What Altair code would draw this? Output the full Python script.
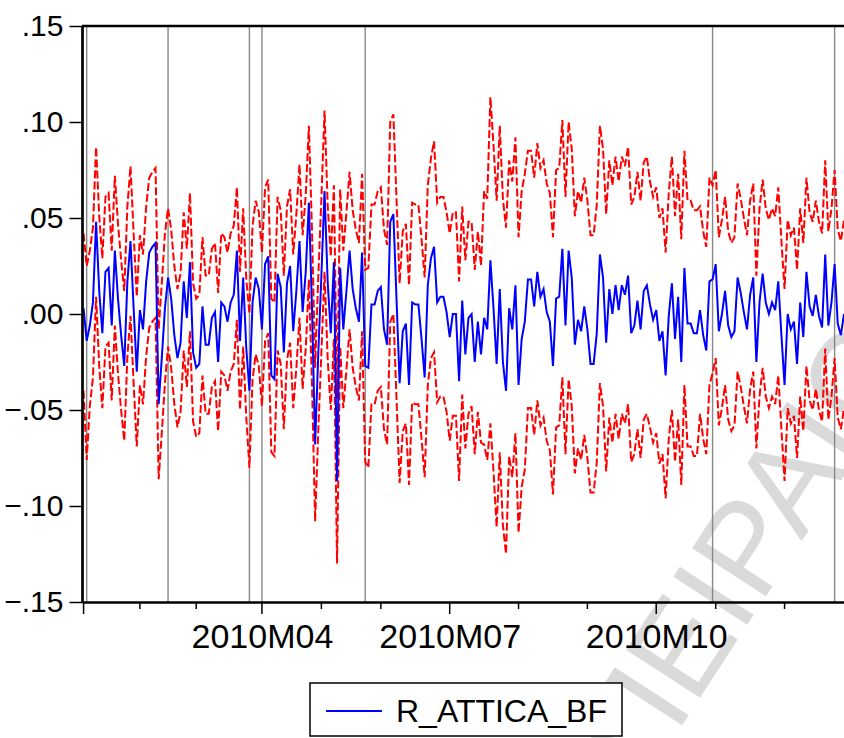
import altair as alt
import pandas as pd

FONT = "Liberation Sans"

# Daily returns of R_ATTICA_BF over 2010 (one value per trading day)
ret = [
    0.003, -0.014, -0.006, 0.006, 0.048, 0.012, -0.010, 0.022, 0.024, -0.006,
    0.033, 0.008, -0.011, -0.027, 0.017, 0.038, 0.003, -0.030, 0.002, -0.008,
    0.017, 0.032, 0.035, 0.037, -0.047, -0.023, 0.003, 0.019, 0.008, -0.011,
    -0.023, -0.015, 0.017, -0.002, 0.027, -0.020, -0.028, -0.026, 0.004, -0.016,
    -0.016, -0.002, 0.001, -0.025, 0.006, 0.004, -0.004, 0.006, 0.010, 0.033,
    -0.014, 0.019, -0.018, -0.040, 0.006, 0.019, 0.013, -0.008, 0.026, 0.030,
    -0.032, -0.034, 0.021, 0.014, -0.020, 0.016, 0.025, -0.009, 0.012, 0.038,
    0.001, 0.022, 0.058, 0.003, -0.068, -0.021, 0.020, 0.064, 0.017, -0.010,
    0.027, -0.087, 0.024, -0.008, 0.012, 0.033, 0.013, 0.003, -0.004, 0.032,
    -0.027, -0.028, 0.005, 0.005, 0.012, 0.014, -0.008, -0.016, 0.048, 0.052,
    0.008, -0.036, -0.009, -0.005, -0.037, 0.006, 0.005, 0.005, -0.013, -0.033,
    0.015, 0.029, 0.035, 0.006, 0.009, 0.009, 0.001, -0.012, 0.000, 0.000,
    -0.035, 0.007, -0.021, -0.002, 0.000, -0.025, -0.004, -0.021, -0.002, -0.008,
    0.028, 0.003, -0.026, 0.013, -0.025, -0.040, 0.003, -0.008, 0.015, -0.037,
    -0.013, -0.004, 0.018, 0.018, 0.004, 0.022, 0.009, 0.013, 0.001, -0.004,
    -0.027, 0.008, 0.009, 0.034, -0.006, 0.033, 0.019, -0.016, -0.003, -0.009,
    0.004, -0.008, -0.026, -0.026, -0.010, 0.031, 0.019, -0.015, 0.013, 0.000,
    0.015, 0.002, 0.015, 0.010, 0.020, -0.010, -0.006, 0.007, -0.008, 0.012,
    0.015, 0.005, -0.003, 0.002, -0.014, -0.009, -0.032, -0.001, 0.016, -0.013,
    0.009, -0.025, 0.024, -0.005, -0.005, -0.010, -0.010, 0.002, -0.011, -0.019,
    0.017, 0.018, 0.026, -0.009, 0.000, 0.012, -0.006, -0.012, -0.009, 0.019,
    0.011, 0.001, -0.008, 0.010, 0.019, -0.025, 0.006, 0.021, 0.006, 0.000,
    0.006, 0.002, 0.017, -0.011, -0.037, 0.000, -0.008, -0.004, -0.026, 0.006,
    -0.012, 0.022, 0.004, -0.001, 0.010, -0.001, -0.007, 0.031, -0.006, 0.006,
    0.026, -0.005, -0.011, 0.000,
]

# Upper band (+2 S.E.)
upper = [
    0.042, 0.025, 0.033, 0.045, 0.087, 0.051, 0.029, 0.061, 0.063, 0.033,
    0.072, 0.047, 0.028, 0.012, 0.056, 0.077, 0.042, 0.009, 0.041, 0.031,
    0.056, 0.071, 0.074, 0.076, -0.008, 0.016, 0.042, 0.055, 0.044, 0.025,
    0.013, 0.021, 0.053, 0.034, 0.063, 0.016, 0.008, 0.010, 0.040, 0.020,
    0.020, 0.034, 0.037, 0.011, 0.042, 0.040, 0.032, 0.042, 0.046, 0.066,
    0.022, 0.055, 0.018, 0.000, 0.046, 0.059, 0.053, 0.032, 0.066, 0.070,
    0.008, 0.006, 0.061, 0.054, 0.020, 0.056, 0.065, 0.031, 0.052, 0.078,
    0.041, 0.062, 0.098, 0.043, -0.028, 0.019, 0.060, 0.106, 0.057, 0.030,
    0.067, -0.044, 0.065, 0.033, 0.053, 0.074, 0.054, 0.044, 0.037, 0.073,
    0.023, 0.024, 0.057, 0.057, 0.064, 0.066, 0.044, 0.036, 0.100, 0.104,
    0.060, 0.016, 0.043, 0.047, 0.015, 0.058, 0.057, 0.057, 0.039, 0.019,
    0.067, 0.081, 0.090, 0.058, 0.061, 0.061, 0.053, 0.042, 0.053, 0.053,
    0.017, 0.056, 0.028, 0.048, 0.048, 0.023, 0.043, 0.025, 0.064, 0.060,
    0.113, 0.088, 0.059, 0.098, 0.060, 0.045, 0.080, 0.069, 0.092, 0.040,
    0.064, 0.073, 0.085, 0.085, 0.071, 0.089, 0.076, 0.080, 0.068, 0.063,
    0.040, 0.075, 0.076, 0.101, 0.061, 0.100, 0.086, 0.051, 0.064, 0.058,
    0.071, 0.059, 0.041, 0.041, 0.057, 0.098, 0.086, 0.052, 0.080, 0.067,
    0.082, 0.069, 0.082, 0.077, 0.087, 0.057, 0.061, 0.074, 0.059, 0.079,
    0.082, 0.069, 0.061, 0.066, 0.050, 0.055, 0.032, 0.063, 0.082, 0.051,
    0.073, 0.039, 0.085, 0.059, 0.059, 0.054, 0.054, 0.056, 0.043, 0.035,
    0.071, 0.067, 0.075, 0.040, 0.049, 0.061, 0.043, 0.037, 0.040, 0.068,
    0.060, 0.050, 0.041, 0.059, 0.068, 0.020, 0.055, 0.070, 0.055, 0.049,
    0.055, 0.051, 0.066, 0.038, 0.013, 0.049, 0.041, 0.045, 0.023, 0.055,
    0.037, 0.071, 0.053, 0.048, 0.059, 0.048, 0.042, 0.080, 0.043, 0.055,
    0.075, 0.044, 0.038, 0.049,
]

# Lower band (-2 S.E.)
lower = [
    -0.040, -0.076, -0.048, -0.033, 0.009, -0.027, -0.049, -0.017, -0.015, -0.045,
    -0.006, -0.031, -0.050, -0.066, -0.022, -0.001, -0.036, -0.069, -0.037, -0.047,
    -0.022, -0.007, -0.004, -0.002, -0.086, -0.062, -0.036, -0.017, -0.028, -0.047,
    -0.059, -0.051, -0.019, -0.038, -0.009, -0.056, -0.064, -0.062, -0.032, -0.052,
    -0.052, -0.038, -0.035, -0.061, -0.030, -0.032, -0.040, -0.030, -0.026, -0.003,
    -0.050, -0.017, -0.054, -0.080, -0.034, -0.021, -0.027, -0.048, -0.014, -0.010,
    -0.072, -0.074, -0.019, -0.026, -0.060, -0.024, -0.015, -0.049, -0.028, -0.002,
    -0.039, -0.018, 0.018, -0.037, -0.108, -0.061, -0.020, 0.022, -0.023, -0.050,
    -0.013, -0.130, -0.017, -0.049, -0.029, -0.008, -0.028, -0.038, -0.045, -0.009,
    -0.077, -0.080, -0.047, -0.047, -0.040, -0.038, -0.060, -0.068, -0.004, 0.000,
    -0.044, -0.088, -0.061, -0.057, -0.089, -0.046, -0.047, -0.047, -0.065, -0.085,
    -0.037, -0.023, -0.020, -0.046, -0.043, -0.043, -0.051, -0.066, -0.053, -0.053,
    -0.087, -0.042, -0.070, -0.052, -0.048, -0.073, -0.051, -0.067, -0.068, -0.076,
    -0.057, -0.082, -0.111, -0.072, -0.110, -0.125, -0.074, -0.085, -0.062, -0.114,
    -0.090, -0.081, -0.049, -0.049, -0.063, -0.045, -0.058, -0.054, -0.066, -0.071,
    -0.094, -0.059, -0.058, -0.033, -0.073, -0.034, -0.048, -0.083, -0.070, -0.076,
    -0.063, -0.075, -0.093, -0.093, -0.077, -0.036, -0.048, -0.082, -0.054, -0.067,
    -0.052, -0.065, -0.052, -0.057, -0.047, -0.077, -0.073, -0.060, -0.075, -0.055,
    -0.052, -0.059, -0.067, -0.062, -0.078, -0.073, -0.096, -0.065, -0.050, -0.077,
    -0.055, -0.089, -0.037, -0.069, -0.069, -0.074, -0.074, -0.052, -0.065, -0.073,
    -0.037, -0.031, -0.023, -0.058, -0.049, -0.037, -0.055, -0.061, -0.058, -0.030,
    -0.038, -0.048, -0.057, -0.039, -0.030, -0.070, -0.043, -0.028, -0.043, -0.049,
    -0.043, -0.047, -0.032, -0.060, -0.087, -0.049, -0.057, -0.053, -0.075, -0.043,
    -0.061, -0.027, -0.045, -0.050, -0.039, -0.050, -0.056, -0.018, -0.055, -0.043,
    -0.023, -0.054, -0.060, -0.049,
]

# Calendar: first trading-day index of each month
month_labels = ["2010M01", "2010M02", "2010M03", "2010M04", "2010M05", "2010M06",
                "2010M07", "2010M08", "2010M09", "2010M10", "2010M11", "2010M12"]
month_first_obs = [0, 18, 36, 57, 76, 95, 117, 139, 161, 183, 202, 224]
major_months = ["2010M01", "2010M04", "2010M07", "2010M10"]
labelled_months = ["2010M04", "2010M07", "2010M10"]

# Estimated break dates (trading-day index)
break_obs = [1, 27, 53, 57, 90, 201, 240]

y_ticks = [-0.15, -0.10, -0.05, 0.00, 0.05, 0.10, 0.15]
series_name = "R_ATTICA_BF"

n = len(ret)
df = pd.DataFrame({
    "pos": [i + 0.5 for i in range(n)],
    "ret": ret,
    "upper": upper,
    "lower": lower,
})
breaks_df = pd.DataFrame({"pos": [b + 0.5 for b in break_obs]})
ticks_df = pd.DataFrame({
    "pos": [m + 0.5 for m in month_first_obs],
    "major": [lab in major_months for lab in month_labels],
})
one_row = pd.DataFrame({"series": [series_name]})

W, H = 762, 576

x_scale = alt.Scale(domain=[0, n - 0.5], nice=False, zero=False)
y_scale = alt.Scale(domain=[-0.15, 0.15], nice=False, zero=False)

label_pos = [month_first_obs[month_labels.index(m)] + 0.5 for m in labelled_months]
label_expr = " : ".join(
    f"datum.value == {p} ? '{m}'" for p, m in zip(label_pos, labelled_months)
) + " : ''"

x_axis = alt.Axis(
    values=label_pos, labelExpr=label_expr, ticks=False, tickSize=0, grid=False,
    domainColor="black", domainWidth=2.7, labelFont=FONT, labelFontSize=34,
    labelColor="black", labelPadding=18, labelFlush=False, labelOverlap=False,
    title=None, zindex=2,
)
y_axis = alt.Axis(
    values=y_ticks, labelExpr="replace(format(datum.value, '.2f'), '0.', '.')",
    tickSize=13, tickWidth=1.5, tickColor="black", grid=False,
    domainColor="black", domainWidth=2.7, labelFont=FONT, labelFontSize=30,
    labelColor="black", labelPadding=6, labelFlush=False, title=None, zindex=2,
)

X = alt.X("pos:Q", scale=x_scale, axis=x_axis)

# light diagonal watermark text
wm_style = dict(angle=303, fontSize=128, font=FONT, color="#dadada", baseline="alphabetic")
watermark_a = alt.Chart(pd.DataFrame({"t": ["ΠΕΙΡΑΙΩΣ"]})).mark_text(
    align="left", **wm_style
).encode(x=alt.value(562), y=alt.value(758), text="t:N")
watermark_b = alt.Chart(pd.DataFrame({"t": ["ΠΑΝΕΠΙΣΤΗΜΙΟ"]})).mark_text(
    align="right", **wm_style
).encode(x=alt.value(543), y=alt.value(787), text="t:N")

breaks = alt.Chart(breaks_df).mark_rule(color="#888888", strokeWidth=1.4).encode(x=X)

band_style = dict(color="#ff0000", strokeWidth=2.0, strokeDash=[8, 3])
upper_line = alt.Chart(df).mark_line(**band_style).encode(
    x=X, y=alt.Y("upper:Q", scale=y_scale, axis=y_axis)
)
lower_line = alt.Chart(df).mark_line(**band_style).encode(
    x=X, y=alt.Y("lower:Q", scale=y_scale, axis=y_axis)
)
ret_line = alt.Chart(df).mark_line(strokeWidth=2.0, color="#0000ff").encode(
    x=X, y=alt.Y("ret:Q", scale=y_scale, axis=y_axis)
)

minor_ticks = alt.Chart(ticks_df).transform_filter("!datum.major").mark_rule(
    color="black", strokeWidth=1.5
).encode(x=X, y=alt.value(H), y2=alt.value(H + 7))
major_ticks = alt.Chart(ticks_df).transform_filter("datum.major").mark_rule(
    color="black", strokeWidth=1.5
).encode(x=X, y=alt.value(H), y2=alt.value(H + 12))

top_frame = alt.Chart(one_row).mark_rule(color="black", strokeWidth=2.7).encode(
    x=alt.value(0), x2=alt.value(W), y=alt.value(0)
)

# legend box below the axis
legend_box = alt.Chart(one_row).mark_rect(
    fill="white", stroke="black", strokeWidth=1.5
).encode(x=alt.value(228), x2=alt.value(540), y=alt.value(657), y2=alt.value(710))
legend_swatch = alt.Chart(one_row).mark_rule(color="#0000ff", strokeWidth=2.0).encode(
    x=alt.value(244), x2=alt.value(300), y=alt.value(685)
)
legend_label = alt.Chart(one_row).mark_text(
    align="left", baseline="middle", font=FONT, fontSize=32, color="black"
).encode(x=alt.value(314), y=alt.value(686), text="series:N")

chart = alt.layer(
    watermark_b, watermark_a, breaks, upper_line, lower_line, ret_line,
    minor_ticks, major_ticks, top_frame, legend_box, legend_swatch, legend_label,
).properties(
    width=W, height=H, autosize="none",
    padding={"left": 82, "top": 26, "right": 0, "bottom": 136},
).configure_view(stroke=None).configure(background="white")

chart.save("out.html", embed_options={"renderer": "svg", "actions": False})
